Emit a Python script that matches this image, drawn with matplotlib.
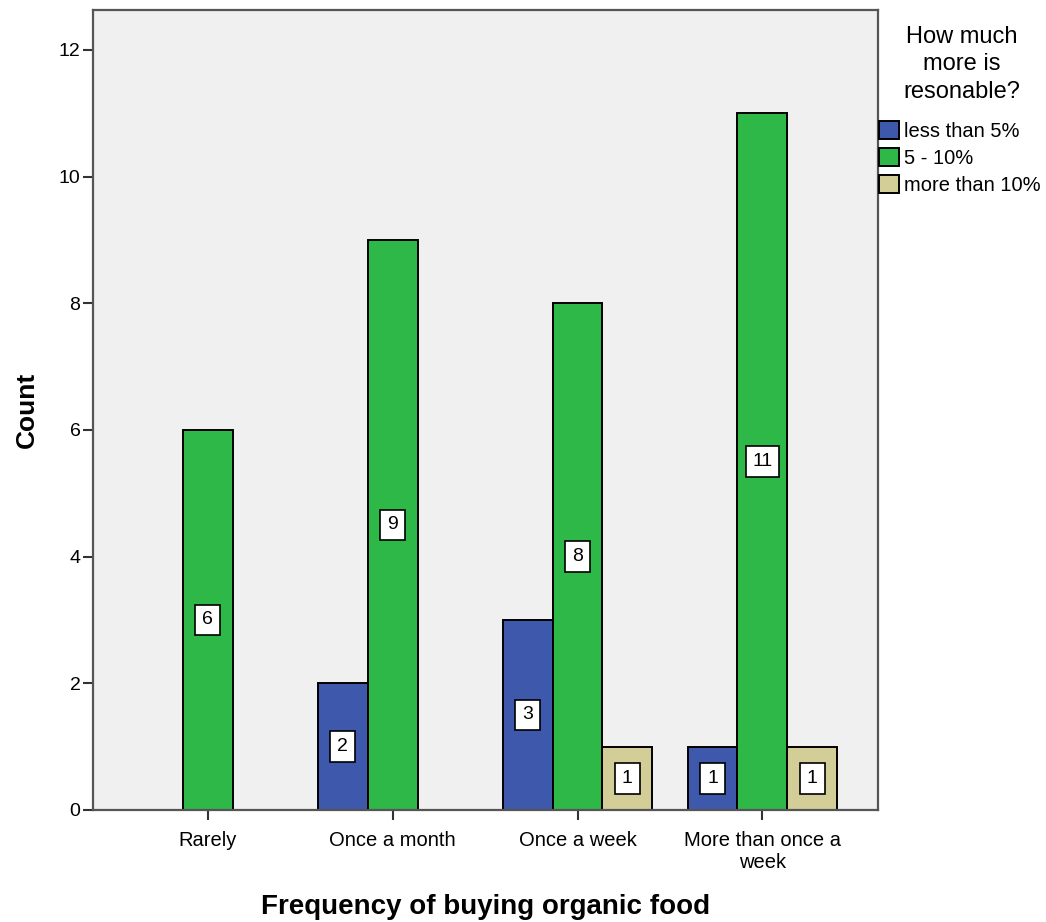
import numpy as np
import matplotlib.pyplot as plt

categories = ["Rarely", "Once a month", "Once a week", "More than once a\nweek"]
series = ["less than 5%", "5 - 10%", "more than 10%"]
less5 = [0, 2, 3, 1]
mid = [6, 9, 8, 11]
more10 = [0, 0, 1, 1]
colors = ["#3e58ac", "#2eb848", "#d3ce97"]

plt.rcParams['font.family'] = ['Liberation Sans', 'DejaVu Sans']

fig = plt.figure(figsize=(10.46, 9.22), dpi=100)
ax = fig.add_axes([0.0889, 0.1215, 0.7505, 0.8677])
ax.set_facecolor("#f0f0f0")

x = np.arange(len(categories))
w = 0.27
for k, (vals, name) in enumerate(zip([less5, mid, more10], series)):
    pos = x + (k - 1) * w
    keep = [i for i, v in enumerate(vals) if v > 0]
    ax.bar(pos[keep], [vals[i] for i in keep], width=w, color=colors[k],
           edgecolor="black", linewidth=1.4, label=name, zorder=2)
    for i in keep:
        ax.text(pos[i], vals[i] / 2, str(vals[i]), ha="center", va="center",
                fontsize=14, zorder=3,
                bbox=dict(boxstyle="square,pad=0.35", fc="white", ec="black", lw=1.2))

ax.set_xlim(-0.62, 3.625)
ax.set_ylim(0, 12.63)
ax.set_yticks(range(0, 13, 2))
ax.set_xticks(x)
ax.set_xticklabels(categories, fontsize=14.5)
ax.tick_params(axis="y", labelsize=14, length=7, width=1.5, color="#333333", pad=2)
ax.tick_params(axis="x", length=7, width=1.5, color="#333333", pad=8)
for s in ax.spines.values():
    s.set_color("#555555")
    s.set_linewidth(1.6)

ax.set_ylabel("Count", fontsize=19, fontweight="bold", labelpad=14)
ax.set_xlabel("Frequency of buying organic food", fontsize=20, fontweight="bold", labelpad=16)

fig.text(0.9197, 1 - 26 / 922, "How much\nmore is\nresonable?", ha="center", va="top",
         multialignment="center", fontsize=17, linespacing=1.32)

handles, labels = ax.get_legend_handles_labels()
leg = fig.legend(handles, labels, loc="upper left", bbox_to_anchor=(0.8405, 1 - 121 / 922),
                 frameon=False, fontsize=14.5,
                 handlelength=1.0, handleheight=1.0, handletextpad=0.25,
                 labelspacing=0.35, borderaxespad=0, borderpad=0)

fig.savefig("out.png", dpi=100)
